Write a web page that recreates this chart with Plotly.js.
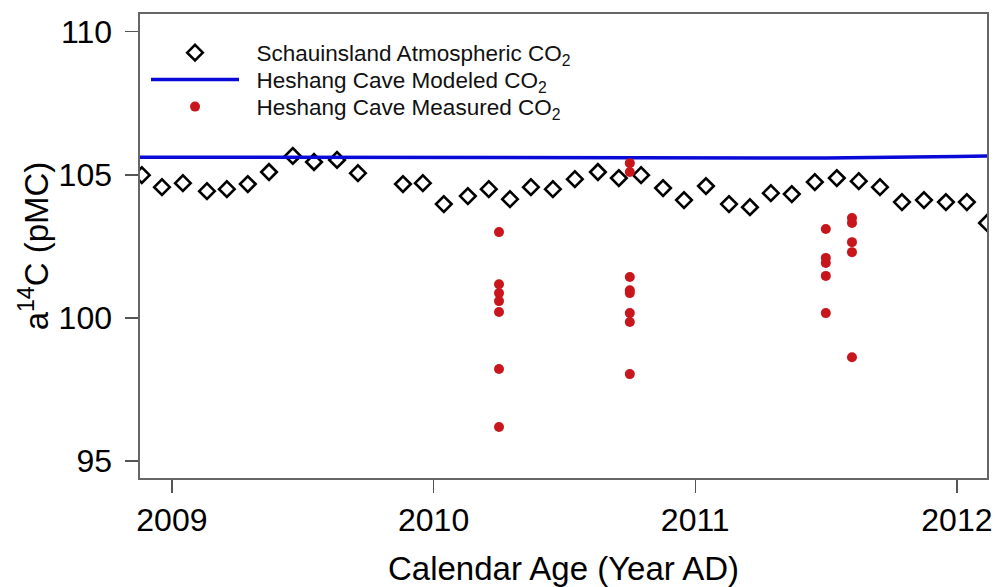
<!DOCTYPE html>
<html>
<head>
<meta charset="utf-8">
<script src="https://cdn.plot.ly/plotly-3.0.1.min.js"></script>
<style>html,body{margin:0;padding:0;background:#fff;}#chart{width:995px;height:587px;}</style>
</head>
<body>
<div id="chart"></div>
<script>
// Schauinsland atmospheric CO2 (monthly)
const atmYear = [2008.885, 2008.962, 2009.042, 2009.134, 2009.210, 2009.290, 2009.371, 2009.462, 2009.543, 2009.631, 2009.711,
  2009.883, 2009.959, 2010.039, 2010.131, 2010.211, 2010.292, 2010.372, 2010.456, 2010.540, 2010.628, 2010.708, 2010.793,
  2010.877, 2010.957, 2011.041, 2011.129, 2011.209, 2011.289, 2011.369, 2011.457, 2011.541, 2011.625, 2011.706, 2011.790,
  2011.874, 2011.958, 2012.038, 2012.115];
const atmC14 = [104.99, 104.57, 104.71, 104.43, 104.50, 104.68, 105.10, 105.66, 105.45, 105.52, 105.06,
  104.68, 104.71, 103.98, 104.26, 104.50, 104.15, 104.57, 104.50, 104.85, 105.10, 104.89, 104.99,
  104.54, 104.12, 104.61, 103.98, 103.87, 104.36, 104.33, 104.75, 104.89, 104.78, 104.57, 104.05,
  104.12, 104.05, 104.05, 103.32];

// Heshang Cave modeled CO2
const modYear = [2008.85, 2009.5, 2010.0, 2010.5, 2011.0, 2011.5, 2012.0, 2012.15];
const modC14 = [105.62, 105.61, 105.60, 105.59, 105.58, 105.59, 105.64, 105.66];

// Heshang Cave measured CO2
const measYear = [2010.25, 2010.25, 2010.25, 2010.25, 2010.25, 2010.25, 2010.25,
  2010.75, 2010.75, 2010.75, 2010.75, 2010.75, 2010.75, 2010.75, 2010.75,
  2011.499, 2011.499, 2011.499, 2011.499, 2011.499,
  2011.599, 2011.599, 2011.599, 2011.599, 2011.599];
const measC14 = [103.00, 101.18, 100.87, 100.59, 100.21, 98.22, 96.19,
  105.41, 105.10, 101.43, 100.97, 100.87, 100.17, 99.86, 98.04,
  103.11, 102.10, 101.92, 101.47, 100.17,
  103.49, 103.32, 102.65, 102.30, 98.63];

const seriesNames = ['Schauinsland Atmospheric CO<sub>2</sub>', 'Heshang Cave Modeled CO<sub>2</sub>', 'Heshang Cave Measured CO<sub>2</sub>'];
const xTicks = [2009, 2010, 2011, 2012];
const yTicks = [95, 100, 105, 110];

const FONT = 'Liberation Sans, Arial, Helvetica, sans-serif';
const PAD = '\u00A0\u00A0';

const traces = [
  {
    x: atmYear, y: atmC14, type: 'scatter', mode: 'markers',
    name: PAD + seriesNames[0], legend: 'legend',
    marker: {symbol: 'diamond-open', size: 12, color: '#000', line: {width: 2.6, color: '#000'}}
  },
  {
    x: modYear, y: modC14, type: 'scatter', mode: 'lines',
    name: PAD + seriesNames[1], legend: 'legend2',
    line: {color: '#0a0ad8', width: 3.5}
  },
  {
    x: measYear, y: measC14, type: 'scatter', mode: 'markers',
    name: PAD + seriesNames[2], legend: 'legend3',
    marker: {symbol: 'circle', size: 10, color: '#c8161d'}
  }
];

function legendBox(yc) {
  return {
    x: 0.0071, y: yc, xanchor: 'left', yanchor: 'middle',
    bgcolor: 'rgba(0,0,0,0)', borderwidth: 0,
    font: {family: FONT, size: 22.5, color: '#111'},
    itemwidth: 88
  };
}

const layout = {
  width: 995, height: 587,
  margin: {l: 140, r: 8, t: 14, b: 109, pad: 0},
  paper_bgcolor: '#fff', plot_bgcolor: '#fff',
  font: {family: FONT, color: '#000'},
  showlegend: true,
  legend: legendBox(0.9159),
  legend2: legendBox(0.8578),
  legend3: legendBox(0.7996),
  xaxis: {
    range: [2008.878, 2012.115],
    tickvals: xTicks, ticktext: xTicks.map(String),
    ticks: 'outside', ticklen: 13, tickwidth: 1.3, tickcolor: '#555',
    showline: true, mirror: true, linecolor: '#666', linewidth: 1.6,
    showgrid: false, zeroline: false,
    tickfont: {family: FONT, size: 32, color: '#000'},
    title: {text: 'Calendar Age (Year AD)', font: {family: FONT, size: 33, color: '#000'}, standoff: 22}
  },
  yaxis: {
    range: [94.41, 110.62],
    tickvals: yTicks, ticktext: yTicks.map(String),
    ticks: 'outside', ticklen: 13, tickwidth: 1.3, tickcolor: '#555',
    ticklabelstandoff: 7,
    showline: true, mirror: true, linecolor: '#666', linewidth: 1.6,
    showgrid: false, zeroline: false,
    tickfont: {family: FONT, size: 32, color: '#000'},
    title: {text: 'a<sup>14</sup>C (pMC)', font: {family: FONT, size: 33, color: '#000'}, standoff: 0}
  }
};

Plotly.newPlot('chart', traces, layout, {displayModeBar: false, staticPlot: true});
</script>
</body>
</html>
